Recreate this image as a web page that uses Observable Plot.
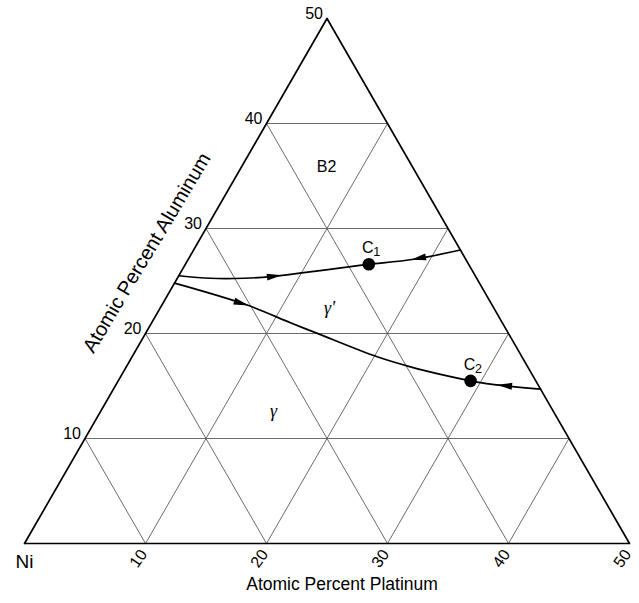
<!DOCTYPE html>
<html><head><meta charset="utf-8">
<script src="https://cdn.jsdelivr.net/npm/d3@7"></script>
<script src="https://cdn.jsdelivr.net/npm/@observablehq/plot@0.6"></script>
<style>body{margin:0;background:#fff} svg{display:block}</style>
</head><body><div id="chart"></div>
<script>
// ---- data (atomic percent Pt, atomic percent Al; Ni = balance) ----
const gridValues = [10, 20, 30, 40];
const alTickValues = [10, 20, 30, 40, 50];
const ptTickValues = [10, 20, 30, 40, 50];

const upperPt = [0, 2.74, 5.49, 7.62, 10.18, 13.76, 15.16, 18.64, 22.05];
const upperAl = [25.5, 25.26, 25.26, 25.41, 25.79, 26.37, 26.59, 27.07, 27.95];

const lowerPt = [0, 7.05, 11.47, 14.19, 20.26, 23.49, 26.64, 29.12, 30.93, 35.3];
const lowerAl = [24.8, 22.71, 21.02, 20.01, 17.78, 16.82, 16.03, 15.49, 15.17, 14.7];

const pointNames = ["C", "C"];
const pointSubs = ["1", "2"];
const pointPt = [15.16, 29.12];
const pointAl = [26.59, 15.49];

const arrowCurve = ["upper", "upper", "lower", "lower"];
const arrowSeg = [3, 7, 0, 8];
const arrowT = [0.12, 0.1, 0.92, 0.28];
const arrowDir = [1, -1, 1, -1];

const phaseNames = ["B2"];
const phasePt = [7.02];
const phaseAl = [35.88];
const greekNames = ["\u03b3'", "\u03b3"];
const greekPt = [14.0, 14.28];
const greekAl = [22.42, 12.6];

// ---- ternary projection ----
const S = Math.sqrt(3) / 2;
const X = (p, a) => p + a / 2;
const Y = (a) => a * S;

const grid = [];
for (const v of gridValues) {
  grid.push({x1: X(0, v), y1: Y(v), x2: X(50 - v, v), y2: Y(v)});      // constant Al
  grid.push({x1: X(v, 0), y1: Y(0), x2: X(v, 50 - v), y2: Y(50 - v)}); // constant Pt
  grid.push({x1: X(v, 0), y1: Y(0), x2: X(0, v), y2: Y(v)});           // constant Ni
}
const edge = [[0, 0], [50, 0], [0, 50], [0, 0]].map(([p, a]) => ({x: X(p, a), y: Y(a)}));
const curves = {
  upper: upperPt.map((p, i) => ({x: X(p, upperAl[i]), y: Y(upperAl[i])})),
  lower: lowerPt.map((p, i) => ({x: X(p, lowerAl[i]), y: Y(lowerAl[i])}))
};
const arrows = arrowCurve.map((c, i) => {
  const pts = curves[c], a = pts[arrowSeg[i]], b = pts[arrowSeg[i] + 1], t = arrowT[i];
  let ang = Math.atan2(-(b.y - a.y), b.x - a.x) * 180 / Math.PI;
  if (arrowDir[i] < 0) ang += 180;
  return {x: a.x + (b.x - a.x) * t, y: a.y + (b.y - a.y) * t, angle: ang};
});
const points = pointPt.map((p, i) => ({x: X(p, pointAl[i]), y: Y(pointAl[i]), name: pointNames[i], sub: pointSubs[i]}));
const phases = phaseNames.map((n, i) => ({x: X(phasePt[i], phaseAl[i]), y: Y(phaseAl[i]), name: n}));
const greek = greekNames.map((n, i) => ({x: X(greekPt[i], greekAl[i]), y: Y(greekAl[i]), name: n}));

const arrowHead = {
  draw(context) {
    const L = 15, W = 7;
    context.moveTo(L / 2, 0);
    context.lineTo(-L / 2, -W / 2);
    context.lineTo(-L / 2, W / 2);
    context.closePath();
  }
};

const font = "'Liberation Sans', Arial, Helvetica, sans-serif";

const chart = Plot.plot({
  width: 639,
  height: 603,
  marginLeft: 24,
  marginRight: 10,
  marginTop: 18,
  marginBottom: 60,
  x: {domain: [0, 50], axis: null},
  y: {domain: [0, 50 * S], axis: null},
  style: {fontFamily: font, background: "#fff", color: "#000"},
  marks: [
    Plot.link(grid, {x1: "x1", y1: "y1", x2: "x2", y2: "y2", stroke: "#5a5a5a", strokeWidth: 0.9}),
    Plot.line(edge, {x: "x", y: "y", stroke: "#000", strokeWidth: 1.7}),
    Plot.line(curves.upper, {x: "x", y: "y", curve: "catmull-rom", stroke: "#000", strokeWidth: 1.7}),
    Plot.line(curves.lower, {x: "x", y: "y", curve: "catmull-rom", stroke: "#000", strokeWidth: 1.7}),
    Plot.dot(arrows, {x: "x", y: "y", rotate: "angle", symbol: arrowHead, fill: "#000", stroke: "none"}),
    Plot.dot(points, {x: "x", y: "y", r: 6.3, fill: "#000", stroke: "none"}),
    Plot.text(points, {x: "x", y: "y", text: "name", dx: -1, dy: -16, fontSize: 16}),
    Plot.text(points, {x: "x", y: "y", text: "sub", dx: 8, dy: -12, fontSize: 12.5}),
    Plot.text(phases, {x: "x", y: "y", text: "name", fontSize: 16}),
    Plot.text(greek, {x: "x", y: "y", text: "name", fontSize: 18, fontFamily: "'Liberation Serif', 'DejaVu Serif', serif", fontStyle: "italic"}),
    Plot.text(alTickValues, {x: (v) => X(0, v), y: (v) => Y(v), text: (v) => String(v), textAnchor: "end", dx: -4, dy: -5, fontSize: 16}),
    Plot.text(ptTickValues, {x: (v) => X(v, 0), y: 0, text: (v) => String(v), rotate: -55, dx: -7, dy: 15, fontSize: 16}),
    Plot.text(["Ni"], {x: 0, y: 0, text: (d) => d, dx: 0, dy: 18, fontSize: 19}),
    Plot.text(["Atomic Percent Platinum"], {frameAnchor: "bottom", text: (d) => d, dx: 15, dy: 46, fontSize: 17.5}),
    Plot.text(["Atomic Percent Aluminum"], {x: X(0, 27.5), y: Y(27.5), text: (d) => d, rotate: -59, dx: -44, dy: -2, fontSize: 20})
  ]
});
document.getElementById("chart").appendChild(chart);
</script>
</body></html>
